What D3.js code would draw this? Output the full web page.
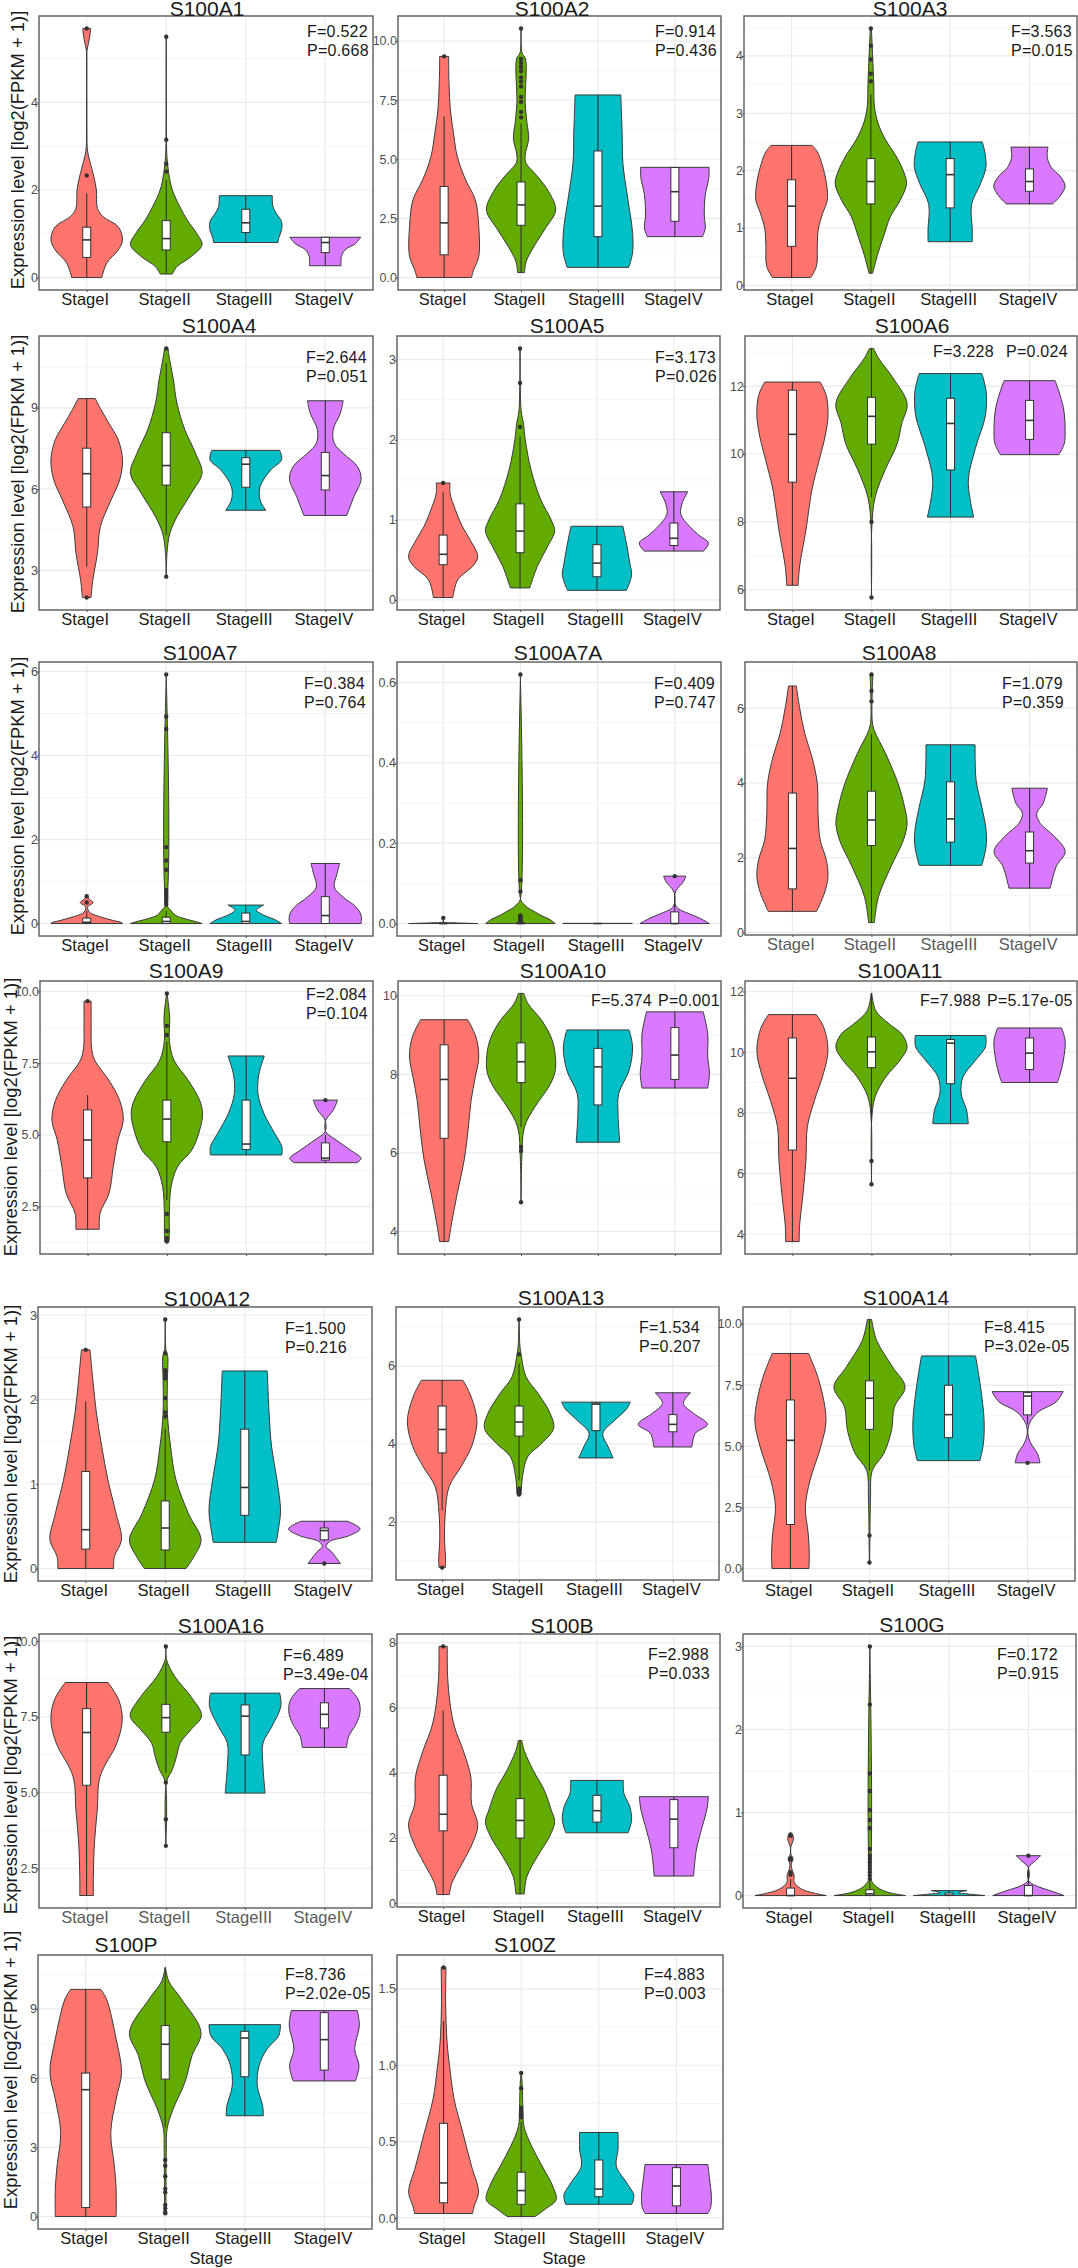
<!DOCTYPE html>
<html>
<head>
<meta charset="utf-8">
<script src="https://cdnjs.cloudflare.com/ajax/libs/d3/7.8.5/d3.min.js"></script>
<style>
  html, body { margin: 0; padding: 0; background: #fff; }
  svg { display: block; font-family: "Liberation Sans", Arial, sans-serif; }
</style>
</head>
<body>
<div id="chart"></div>
<script>
const stages = ["StageI", "StageII", "StageIII", "StageIV"];
const stageColors = ["#FF746C", "#62AB00", "#00BFC6", "#D879FF"];
const genes = ["S100A1", "S100A2", "S100A3", "S100A4", "S100A5", "S100A6", "S100A7", "S100A7A", "S100A8", "S100A9", "S100A10",
  "S100A11", "S100A12", "S100A13", "S100A14", "S100A16", "S100B", "S100G", "S100P", "S100Z"];
const fStats = ["F=0.522", "F=0.914", "F=3.563", "F=2.644", "F=3.173", "F=3.228", "F=0.384", "F=0.409", "F=1.079", "F=2.084",
  "F=5.374", "F=7.988", "F=1.500", "F=1.534", "F=8.415", "F=6.489", "F=2.988", "F=0.172", "F=8.736", "F=4.883"];
const pStats = ["P=0.668", "P=0.436", "P=0.015", "P=0.051", "P=0.026", "P=0.024", "P=0.764", "P=0.747", "P=0.359", "P=0.104",
  "P=0.001", "P=5.17e-05", "P=0.216", "P=0.207", "P=3.02e-05", "P=3.49e-04", "P=0.033", "P=0.915", "P=2.02e-05", "P=0.003"];
const yTickLists = [[0, 2, 4], [0, 2.5, 5, 7.5, 10], [0, 1, 2, 3, 4], [3, 6, 9], [0, 1, 2, 3], [6, 8, 10, 12], [0, 2, 4, 6],
  [0, 0.2, 0.4, 0.6], [0, 2, 4, 6], [2.5, 5, 7.5, 10], [4, 6, 8, 10], [4, 6, 8, 10, 12], [0, 1, 2, 3], [2, 4, 6],
  [0, 2.5, 5, 7.5, 10], [2.5, 5, 7.5, 10], [0, 2, 4, 6, 8], [0, 1, 2, 3], [0, 3, 6, 9], [0, 0.5, 1, 1.5]];

// violin outlines: [value, share of the full half width], top to bottom, one list per stage
const violinsA1 = [
  [[5.69,.11],[5.54,.09],[5.35,.05],[5.16,.006],[4.05,.004],[3.29,.006],[2.91,.02],[2.68,.08],[2.3,.2],[2,.27],[1.58,.3],[1.39,.46],[1.16,.88],[.86,1],[.63,.88],[.33,.56],[0,.42]],
  [[5.5,.004],[3.2,.006],[2.76,.02],[2.38,.07],[2,.17],[1.62,.38],[1.32,.58],[1.01,.85],[.75,1],[.48,.7],[.25,.3],[.08,.17]],
  [[1.87,.74],[1.62,.76],[1.47,.85],[1.28,1],[1.09,1],[.9,.92],[.8,.9]],
  [[.92,.99],[.78,.85],[.63,.55],[.48,.45],[.27,.44]]];
const boxesA1 = [[0,.46,.86,1.15,1.92], [.08,.63,.89,1.3,2.23], [.8,1.03,1.25,1.56,1.87], [.27,.57,.8,.92,.92]];
const outliersA1 = [[5.69,2.33], [5.5,3.15,2.6,2.42], [], []];

const violinsA2 = [
  [[9.35,.13],[8.22,.14],[7.09,.18],[6.1,.27],[5.12,.38],[4.13,.62],[3.29,.9],[2.16,1],[.89,1],[.32,.85],[0,.79]],
  [[10.53,.005],[9.5,.03],[9.24,.13],[7.4,.12],[6.56,.17],[5.87,.22],[5.18,.12],[4.84,.14],[4.32,.45],[3.63,.8],[2.85,1],[2.07,.7],[1.38,.4],[.69,.15],[.21,.1]],
  [[7.72,.66],[6.9,.68],[6.04,.7],[4.84,.72],[3.45,.85],[1.9,1],[1.04,1],[.43,.89]],
  [[4.66,.99],[4.2,.98],[3.5,.88],[2.6,.85],[2.1,.88],[1.73,.8]]];
const boxesA2 = [[0,.96,2.31,3.85,6.81], [.21,2.21,3.07,4.04,6.5], [.43,1.73,3.02,5.35,7.72], [1.73,2.38,3.63,4.65,4.66]];
const outliersA2 = [[9.35], [10.53,9.24,9.07,8.9,8.72,8.46,8.29,8.08,7.63,7.43,7,6.77], [], []];

const violinsA3 = [
  [[2.44,.58],[2.33,.72],[2.12,.85],[1.77,.98],[1.48,1],[1.27,.88],[.98,.75],[.7,.72],[.34,.7],[.135,.54]],
  [[4.48,.015],[3.54,.08],[3.12,.1],[2.83,.2],[2.55,.4],[2.26,.7],[1.98,.92],[1.77,1],[1.48,.82],[1.2,.55],[.84,.35],[.56,.2],[.21,.05]],
  [[2.5,.9],[2.3,.98],[2.05,1],[1.77,.85],[1.41,.6],[.98,.62],[.76,.62]],
  [[2.41,.52],[2.23,.5],[2.05,.62],[1.91,.85],[1.73,1],[1.55,.85],[1.42,.65]]];
const boxesA3 = [[.135,.68,1.38,1.84,2.44], [.21,1.42,1.81,2.21,3.33], [.76,1.35,1.93,2.21,2.5], [1.42,1.64,1.81,2.03,2.41]];
const outliersA3 = [[], [4.48,4.18,3.94,3.69,3.56], [], []];

const violinsA4 = [
  [[9.34,.24],[8.93,.4],[8.43,.62],[7.82,.88],[7.08,1],[6.34,.92],[5.6,.68],[4.61,.38],[3.63,.3],[2.64,.17],[2,.12]],
  [[11.19,.05],[10.9,.08],[10.03,.2],[9.17,.3],[8.19,.52],[7.32,.82],[6.59,1],[5.85,.7],[4.98,.3],[4.37,.1],[3.63,.02],[2.77,.004]],
  [[7.43,.95],[7.08,1],[6.71,.7],[6.09,.4],[5.6,.4],[5.22,.56]],
  [[9.26,.5],[8.8,.42],[8.19,.22],[7.69,.25],[7.32,.5],[6.83,.9],[6.36,1],[5.72,.8],[5.03,.6]]];
const boxesA4 = [[3.14,5.34,6.57,7.51,9.34], [4.31,6.15,6.87,8.08,10.65], [5.22,6.07,6.92,7.16,7.43], [5.03,5.97,6.5,7.35,9.26]];
const outliersA4 = [[2], [11.19,2.77], [], []];

const violinsA5 = [
  [[1.46,.2],[1.33,.2],[1.13,.35],[.92,.55],[.75,.78],[.54,1],[.42,.85],[.25,.42],[.03,.28]],
  [[3.14,.004],[2.37,.03],[2.2,.1],[2,.15],[1.62,.32],[1.25,.6],[1,.9],[.86,1],[.67,.8],[.42,.5],[.15,.28]],
  [[.92,.75],[.71,.85],[.46,.95],[.31,1],[.12,.85]],
  [[1.35,.4],[1.22,.25],[1.07,.2],[.92,.45],[.81,.72],[.71,1],[.61,.86]]];
const boxesA5 = [[.03,.44,.57,.81,1.35], [.15,.59,.86,1.2,2.04], [.12,.29,.46,.69,.92], [.61,.68,.77,.96,1.35]];
const outliersA5 = [[1.46], [3.14,2.71,2.16], [], []];

const violinsA6 = [
  [[12.12,.78],[11.73,.95],[11.13,1],[10.53,.92],[9.81,.75],[8.96,.55],[7.76,.38],[6.67,.2],[6.13,.16]],
  [[13.11,.06],[12.82,.2],[12.22,.62],[11.49,1],[10.89,.85],[10.29,.72],[9.57,.4],[8.72,.1],[7.76,.006],[5.77,.004]],
  [[12.37,.88],[11.86,1],[11.13,.98],[10.17,.7],[9.2,.5],[8.14,.65]],
  [[12.16,.72],[11.37,.95],[10.65,1],[10.29,.97],[9.98,.82]]];
const boxesA6 = [[6.13,9.17,10.58,11.88,12.12], [8.72,10.29,11.11,11.67,13.11], [8.14,9.53,10.9,11.64,12.37], [9.98,10.43,10.99,11.58,12.16]];
const outliersA6 = [[], [8,5.77], [], []];

const violinsA7 = [
  [[.65,.02],[.58,.07],[.5,.18],[.4,.03],[.3,.05],[.24,.12],[.15,.42],[.07,.75],[.02,.98],[0,1]],
  [[5.93,.003],[.47,.006],[.32,.12],[.2,.25],[.12,.5],[.04,.85],[0,1]],
  [[.44,.5],[.32,.3],[.2,.5],[.1,.8],[0,1]],
  [[1.43,.4],[1.19,.33],[.87,.25],[.63,.5],[.4,.85],[.2,1],[0,1]]];
const boxesA7 = [[0,0,.03,.13,.3], [0,0,.05,.15,.3], [0,0,.05,.25,.44], [0,0,.19,.64,1.43]];
const outliersA7 = [[.65,.5], [5.93,4.93,4.63,1.82,1.5,1.28,.8,.75,.7,.65,.6,.55,.5,.45], [], []];

const violinsA7A = [
  [[.014,.002],[.004,.01],[.002,.3],[0,1]],
  [[.62,.003],[.06,.005],[.05,.08],[.04,.2],[.03,.4],[.02,.6],[.01,.85],[0,1]],
  [[.0005,1],[0,1]],
  [[.118,.32],[.104,.25],[.087,.08],[.075,.01],[.05,.01],[.037,.1],[.025,.4],[.012,.75],[0,1]]];
const boxesA7A = [[0,0,0,.001,.002], [0,0,0,.002,.004], [0,0,0,0,0], [0,0,0,.029,.07]];
const outliersA7A = [[.014], [.62,.108,.08,.02,.018,.015,.012,.01,.008,.005], [], [.118]];

const violinsA8 = [
  [[6.59,.11],[6.02,.2],[5.31,.35],[4.69,.55],[3.98,.7],[3.19,.72],[2.48,.78],[1.95,.95],[1.5,1],[1.06,.9],[.57,.68]],
  [[6.9,.04],[5.66,.02],[5.4,.08],[4.78,.4],[3.98,.75],[3.36,.93],[2.92,1],[2.48,.9],[1.77,.55],[.97,.2],[.27,.08]],
  [[5.02,.69],[4.07,.72],[3.36,.88],[2.74,1],[2.3,1],[1.8,.88]],
  [[3.86,.5],[3.45,.38],[3.19,.2],[2.92,.3],[2.57,.7],[2.17,1],[1.77,.75],[1.19,.58]]];
const boxesA8 = [[.57,1.17,2.25,3.73,6.59], [.27,2.33,3.01,3.78,5.31], [1.8,2.42,3.04,4.03,5.02], [1.19,1.86,2.19,2.69,3.86]];
const outliersA8 = [[], [6.9,6.46,6.18], [], []];

const violinsA9 = [
  [[9.66,.1],[8.76,.1],[8.06,.11],[7.6,.2],[6.9,.6],[6.2,.9],[5.51,1],[4.82,.85],[3.89,.72],[2.96,.6],[2.27,.35],[1.71,.33]],
  [[9.93,.005],[9.1,.08],[8.29,.07],[7.6,.2],[6.9,.6],[6.2,.92],[5.74,1],[5.17,.92],[4.47,.7],[3.89,.3],[3.2,.12],[2.27,.07],[1.57,.07],[1.28,.06]],
  [[7.75,.51],[7.13,.36],[6.44,.33],[5.74,.5],[5.05,.8],[4.59,1],[4.3,1]],
  [[6.21,.34],[5.86,.22],[5.51,.01],[5.11,.01],[4.82,.3],[4.47,.7],[4.18,1],[4.03,.88]]];
const boxesA9 = [[1.71,3.5,4.82,5.87,6.39], [2.73,4.76,5.55,6.21,8.24], [4.3,4.49,4.68,6.21,7.75], [4.03,4.12,4.19,4.72,5]];
const outliersA9 = [[9.66], [9.93,8.8,8.48,2.24,1.65,1.4,1.32,1.28], [], [6.21]];

const violinsA10 = [
  [[9.39,.68],[8.95,.92],[8.44,1],[7.93,.9],[7.34,.78],[6.66,.7],[5.82,.58],[4.97,.38],[4.13,.2],[3.74,.13]],
  [[10.06,.08],[9.8,.2],[9.37,.6],[8.87,.9],[8.36,1],[8.02,.97],[7.68,.8],[7.17,.4],[6.66,.1],[5.82,.02],[4.74,.004]],
  [[9.13,.9],[8.7,1],[8.1,.9],[7.51,.6],[7,.58],[6.27,.63]],
  [[9.59,.82],[9.03,.95],[8.44,.95],[8.02,1],[7.65,.95]]];
const boxesA10 = [[3.74,6.37,7.87,8.75,9.39], [6.66,7.79,8.32,8.8,10.06], [6.27,7.22,8.19,8.66,9.13], [7.65,7.87,8.49,9.19,9.59]];
const outliersA10 = [[], [6.15,6.05,4.74], [], []];

const violinsA11 = [
  [[11.24,.67],[10.82,.88],[10.06,1],[9.29,.87],[8.41,.62],[7.54,.42],[6.44,.38],[5.35,.3],[4.25,.2],[3.75,.19]],
  [[11.94,.01],[11.37,.12],[10.93,.5],[10.6,.85],[10.17,1],[9.73,.8],[9.18,.4],[8.52,.1],[7.76,.006],[5.68,.004]],
  [[10.55,.99],[10.17,.98],[9.73,.7],[9.18,.35],[8.63,.3],[8.09,.45],[7.64,.5]],
  [[10.8,.9],[10.39,1],[9.73,.95],[9.24,.85],[9,.78]]];
const boxesA11 = [[3.75,6.77,9.14,10.47,11.24], [7.65,9.49,10.01,10.5,11.94], [7.64,8.96,10.3,10.42,10.55], [9,9.43,9.97,10.47,10.8]];
const outliersA11 = [[], [6.41,5.64], [], []];

const violinsA12 = [
  [[2.59,.12],[2.23,.2],[1.84,.3],[1.44,.45],[1.05,.62],[.65,.85],[.34,1],[.14,.8],[0,.78]],
  [[2.95,.005],[2.59,.02],[2.51,.07],[2.23,.06],[1.84,.06],[1.44,.15],[1.05,.3],[.65,.65],[.34,1],[.14,.8],[0,.58]],
  [[2.34,.63],[1.84,.68],[1.44,.75],[1.05,.9],[.69,1],[.49,.95],[.31,.88]],
  [[.56,.65],[.47,1],[.39,.7],[.32,.15],[.26,.05],[.2,.2],[.06,.45]]];
const boxesA12 = [[0,.23,.46,1.15,1.98], [0,.22,.48,.8,1.66], [.31,.63,.96,1.65,2.34], [.32,.34,.45,.48,.56]];
const outliersA12 = [[2.59], [2.95,2.55,2.35,2.32,2.28,2.25,2.02,1.85,1.8], [], [.06]];

const violinsA13 = [
  [[5.63,.6],[5.29,.8],[4.78,.98],[4.48,1],[3.93,.85],[3.42,.55],[2.9,.2],[2.22,.09],[1.54,.07],[1.03,.1],[.83,.09]],
  [[7.19,.005],[6.57,.02],[6.23,.07],[5.72,.2],[5.29,.55],[4.78,.9],[4.4,1],[4.01,.65],[3.67,.25],[3.16,.1],[2.7,.06]],
  [[5.07,.99],[4.91,.9],[4.61,.55],[4.27,.2],[3.93,.35],[3.64,.5]],
  [[5.31,.51],[5.04,.3],[4.78,.6],[4.5,1],[4.27,.65],[3.92,.55]]];
const boxesA13 = [[2.29,3.77,4.37,4.97,5.63], [3.07,4.2,4.56,4.97,6.06], [3.64,4.34,5.02,5.05,5.07], [3.92,4.31,4.5,4.75,5.31]];
const outliersA13 = [[.83], [7.19,6.3,2.85,2.8,2.75,2.7], [], []];

const violinsA14 = [
  [[8.79,.51],[7.69,.8],[6.06,1],[4.97,.85],[3.6,.55],[2.51,.42],[1.42,.5],[.6,.53],[0,.52]],
  [[10.18,.06],[9.33,.2],[8.24,.65],[7.42,1],[6.6,.7],[5.65,.62],[4.69,.4],[4.01,.08],[2.92,.03],[2.24,.02],[.25,.004]],
  [[8.69,.76],[7.42,.9],[6.06,1],[5.1,.98],[4.41,.88]],
  [[7.23,1],[6.81,.8],[6.4,.3],[5.92,.05],[5.51,.01],[5.1,.1],[4.69,.28],[4.32,.35]]];
const boxesA14 = [[0,1.8,5.24,6.89,8.79], [4.01,5.69,6.96,7.67,10.18], [4.41,5.35,6.29,7.49,8.69], [5.9,6.28,7.05,7.19,7.23]];
const outliersA14 = [[], [1.35,.25], [], [4.32]];

const violinsA16 = [
  [[8.63,.6],[8.06,.9],[7.4,1],[6.63,.85],[5.53,.38],[4.43,.3],[3.33,.22],[2.22,.19],[1.6,.19]],
  [[9.82,.005],[9.38,.02],[8.83,.25],[8.17,.7],[7.53,1],[7.07,.7],[6.63,.4],[6.19,.3],[5.75,.18],[5.36,.02],[3.24,.004]],
  [[8.28,.97],[7.84,1],[7.18,.75],[6.63,.5],[5.86,.5],[4.98,.56]],
  [[8.43,.7],[8.06,.95],[7.67,1],[7.29,.9],[6.85,.68],[6.49,.62]]];
const boxesA16 = [[1.6,5.24,6.98,7.77,8.63], [5.64,6.99,7.47,7.91,9.27], [4.98,6.24,7.52,7.89,8.28], [6.49,7.13,7.58,7.96,8.43]];
const outliersA16 = [[], [9.82,5.33,4.12,3.24], [], []];

const violinsB = [
  [[7.89,.12],[6.94,.13],[6.12,.2],[5.41,.33],[4.69,.58],[3.88,.8],[3.06,.82],[2.4,1],[1.84,.85],[1.22,.55],[.61,.25],[.26,.18]],
  [[5,.05],[4.69,.12],[4.08,.38],[3.47,.7],[2.86,.9],[2.5,1],[2.04,.85],[1.43,.5],[.82,.2],[.28,.12]],
  [[3.77,.76],[3.37,.78],[2.96,.95],[2.55,1],[2.16,.9]],
  [[3.27,1],[2.86,.95],[2.35,.82],[1.63,.65],[.83,.57]]];
const boxesB = [[.26,2.22,2.73,3.93,5.92], [.28,2,2.54,3.21,5], [2.16,2.49,2.84,3.31,3.77], [.83,1.7,2.58,3.18,3.27]];
const outliersB = [[7.89], [], [], []];

const violinsG = [
  [[.735,.06],[.68,.08],[.58,.006],[.5,.006],[.44,.07],[.38,.02],[.3,.05],[.24,.1],[.16,.1],[.08,.3],[.03,.65],[0,1]],
  [[3,.003],[.22,.005],[.16,.07],[.1,.2],[.04,.5],[0,1]],
  [[.06,.5],[.035,.25],[.02,.5],[0,1]],
  [[.48,.34],[.42,.2],[.34,.006],[.18,.006],[.12,.2],[.06,.6],[0,1]]];
const boxesG = [[0,0,0,.09,.2], [0,0,.02,.07,.17], [0,0,.005,.03,.06], [0,0,0,.12,.3]];
const outliersG = [[.735,.72,.45,.43,.28,.25], [3,2.3,1.47,1.26,1.03,.91,.81,.56,.48,.44,.4,.36,.32,.28,.24,.2], [], [.48]];

const violinsP = [
  [[9.85,.42],[9.43,.58],[7.7,.85],[6.25,1],[5.09,.85],[3.65,.7],[2.2,.8],[1.19,.85],[0,.85]],
  [[10.8,.005],[10.2,.1],[9.43,.45],[7.99,1],[6.98,.75],[5.82,.55],[4.66,.22],[3.79,.05],[2.92,.03],[.14,.02]],
  [[8.32,1],[7.84,.95],[7.26,.62],[6.54,.4],[5.67,.35],[4.8,.5],[4.37,.52]],
  [[8.93,.92],[8.28,.98],[7.26,.85],[6.54,.97],[5.88,.87]]];
const boxesP = [[0,.39,5.5,6.22,9.85], [3.86,5.96,7.47,8.28,10.8], [4.37,6.06,7.74,8.03,8.32], [5.88,6.35,7.67,8.84,8.93]];
const outliersP = [[], [2.45,2.2,1.75,1.2,1.05,.5,.35,.2,.14], [], []];

const violinsZ = [
  [[1.64,.07],[1.4,.06],[1.15,.1],[1,.17],[.78,.3],[.56,.55],[.34,.8],[.17,1],[.08,.88],[.03,.83]],
  [[.95,.005],[.87,.03],[.71,.05],[.6,.08],[.47,.3],[.34,.6],[.21,.9],[.12,1],[.06,.7],[.01,.4]],
  [[.56,.55],[.45,.55],[.34,.5],[.23,.8],[.15,1],[.09,.95]],
  [[.35,.9],[.25,.95],[.15,1],[.07,.98],[.03,.9]]];
const boxesZ = [[.03,.1,.23,.62,1.29], [.01,.09,.18,.3,.63], [.09,.14,.19,.38,.56], [.03,.08,.21,.33,.35]];
const outliersZ = [[1.64], [.95,.85,.72,.7,.68,.66], [], []];

const violinSets = [violinsA1, violinsA2, violinsA3, violinsA4, violinsA5, violinsA6, violinsA7, violinsA7A, violinsA8, violinsA9,
  violinsA10, violinsA11, violinsA12, violinsA13, violinsA14, violinsA16, violinsB, violinsG, violinsP, violinsZ];
const boxSets = [boxesA1, boxesA2, boxesA3, boxesA4, boxesA5, boxesA6, boxesA7, boxesA7A, boxesA8, boxesA9,
  boxesA10, boxesA11, boxesA12, boxesA13, boxesA14, boxesA16, boxesB, boxesG, boxesP, boxesZ];
const outlierSets = [outliersA1, outliersA2, outliersA3, outliersA4, outliersA5, outliersA6, outliersA7, outliersA7A, outliersA8, outliersA9,
  outliersA10, outliersA11, outliersA12, outliersA13, outliersA14, outliersA16, outliersB, outliersG, outliersP, outliersZ];

// panel layout, one row per panel: frame left, right, top, bottom, title centre, title baseline
const frames = [
  [39,373,16,290,207,16], [398,721,16,290,552,16], [744,1077,16,290,910,16],
  [39,373,336,610,219,333], [397,720,336,610,567,333], [745,1077,336,610,912,333],
  [39,373,662,936,200,660], [397,721,662,936,558,660], [745,1077,662,935,899,660],
  [40,373,981,1254,186,978], [398,721,981,1254,563,978], [745,1077,981,1254,900,978],
  [38,372,1307,1581,207,1306], [396,719,1307,1580,561,1305], [743,1075,1307,1581,906,1305],
  [39,372,1634,1908,221,1633], [397,720,1634,1907,562,1633], [743,1076,1634,1908,912,1632],
  [38,372,1955,2229,126,1952], [397,723,1955,2229,525,1952]];
// stat text: x, baseline of F, baseline of P, and x of P
const statPos = [
  [307,37,56,307], [655,37,56,655], [1011,37,56,1011],
  [306,363,382,306], [655,363,382,655], [933,357,357,1006],
  [304,689,708,304], [654,689,708,654], [1002,689,708,1002],
  [306,1000,1019,306], [591,1006,1006,658], [920,1006,1006,987],
  [285,1334,1353,285], [639,1333,1352,639], [984,1333,1352,984],
  [283,1661,1680,283], [648,1660,1679,648], [997,1660,1679,997],
  [285,1980,1999,285], [644,1980,1999,644]];
// y axis title for the first column: x centre, y centre
const yTitles = [[24,150], [24,474], [24,796], [17,1117], [17,1444], [17,1775], [17,2070]];
const greyTickPanels = [8, 15];
const noLabelPanels = [9, 10, 11];
const stageTitlePanels = [[18,211], [19,564]];

const svg = d3.select("#chart").append("svg").attr("width", 1078).attr("height", 2268);

genes.forEach((gene, i) => {
  const [x0, x1, y0, y1, titleX, titleY] = frames[i];
  const violins = violinSets[i], boxes = boxSets[i], outliers = outlierSets[i];

  const all = violins.flat().map(d => d[0]).concat(outliers.flat());
  const [lo, hi] = d3.extent(all);
  const pad = (hi - lo) * 0.05;
  const y = d3.scaleLinear().domain([lo - pad, hi + pad]).range([y1, y0]);
  const x = d3.scalePoint().domain(stages).range([x0, x1]).padding(0.6);
  const halfWidth = x.step() * 0.45;

  const yTicks = yTickLists[i];
  const step = yTicks[1] - yTicks[0];
  const minors = d3.range(yTicks[0] - step / 2, hi + pad, step).filter(v => v > lo - pad);

  const g = svg.append("g");

  // grid
  g.selectAll(".minor").data(minors).enter().append("line")
    .attr("x1", x0).attr("x2", x1).attr("y1", d => y(d)).attr("y2", d => y(d))
    .attr("stroke", "#f0f0f0").attr("stroke-width", 0.7);
  g.selectAll(".major").data(yTicks).enter().append("line")
    .attr("x1", x0).attr("x2", x1).attr("y1", d => y(d)).attr("y2", d => y(d))
    .attr("stroke", "#ebebeb").attr("stroke-width", 1.2);
  g.selectAll(".vmajor").data(stages).enter().append("line")
    .attr("x1", d => x(d)).attr("x2", d => x(d)).attr("y1", y0).attr("y2", y1)
    .attr("stroke", "#ebebeb").attr("stroke-width", 1.2);

  // violins
  const area = d3.area()
    .curve(d3.curveCatmullRom.alpha(0.5))
    .y(d => y(d[0]));
  stages.forEach((stage, s) => {
    const cx = x(stage);
    area.x0(d => cx - d[1] * halfWidth).x1(d => cx + d[1] * halfWidth);
    g.append("path")
      .attr("d", area(violins[s]))
      .attr("fill", stageColors[s])
      .attr("stroke", "#3a3a3a")
      .attr("stroke-width", 1);

    const [wLo, q1, med, q3, wHi] = boxes[s];
    g.append("line").attr("x1", cx).attr("x2", cx).attr("y1", y(wLo)).attr("y2", y(wHi))
      .attr("stroke", "#333").attr("stroke-width", 1.1);
    g.append("rect").attr("x", cx - 4).attr("width", 8)
      .attr("y", y(q3)).attr("height", y(q1) - y(q3))
      .attr("fill", "#fff").attr("stroke", "#333").attr("stroke-width", 1);
    g.append("line").attr("x1", cx - 4).attr("x2", cx + 4).attr("y1", y(med)).attr("y2", y(med))
      .attr("stroke", "#333").attr("stroke-width", 1.6);
    g.selectAll(".outlier" + s).data(outliers[s]).enter().append("circle")
      .attr("cx", cx).attr("cy", d => y(d)).attr("r", 2.2)
      .attr("fill", "#333");
  });

  // frame
  g.append("rect").attr("x", x0).attr("y", y0).attr("width", x1 - x0).attr("height", y1 - y0)
    .attr("fill", "none").attr("stroke", "#666").attr("stroke-width", 1.5);

  // axes
  const yAxis = d3.axisLeft(y).tickValues(yTicks).tickSize(2).tickPadding(-1)
    .tickFormat(d3.format(step % 1 ? ".1f" : "d"));
  const yG = g.append("g").attr("transform", `translate(${x0},0)`).call(yAxis);
  yG.select(".domain").remove();
  yG.selectAll("text").attr("font-size", 12.5).attr("fill", "#4d4d4d").style("font-family", "inherit");
  yG.selectAll("line").attr("stroke", "#555");

  const showLabels = !noLabelPanels.includes(i);
  const xAxis = d3.axisBottom(x).tickSize(2).tickPadding(1.4);
  if (!showLabels) xAxis.tickFormat("");
  const xG = g.append("g").attr("transform", `translate(0,${y1})`).call(xAxis);
  xG.select(".domain").remove();
  xG.selectAll("line").attr("stroke", "#555");
  xG.selectAll("text")
    .attr("font-size", 16.5)
    .attr("dx", -2)
    .attr("fill", greyTickPanels.includes(i) ? "#5a5a5a" : "#1a1a1a")
    .style("font-family", "inherit");

  // title
  g.append("text").attr("x", titleX).attr("y", titleY).attr("text-anchor", "middle")
    .attr("font-size", 21).attr("fill", "#1a1a1a").text(gene);

  // F and P
  const [statX, fY, pY, pX] = statPos[i];
  g.append("text").attr("x", statX).attr("y", fY).attr("font-size", 16)
    .attr("letter-spacing", 0.25).attr("fill", "#1a1a1a").text(fStats[i]);
  g.append("text").attr("x", pX).attr("y", pY).attr("font-size", 16)
    .attr("letter-spacing", 0.25).attr("fill", "#1a1a1a").text(pStats[i]);
});

yTitles.forEach(([cx, cy]) => {
  svg.append("text")
    .attr("transform", `translate(${cx},${cy}) rotate(-90)`)
    .attr("text-anchor", "middle")
    .attr("font-size", 18.4)
    .attr("fill", "#1a1a1a")
    .text("Expression level [log2(FPKM + 1)]");
});

stageTitlePanels.forEach(([panel, cx]) => {
  svg.append("text").attr("x", cx).attr("y", frames[panel][3] + 35)
    .attr("text-anchor", "middle").attr("font-size", 16.5).attr("fill", "#1a1a1a").text("Stage");
});
</script>
</body>
</html>
